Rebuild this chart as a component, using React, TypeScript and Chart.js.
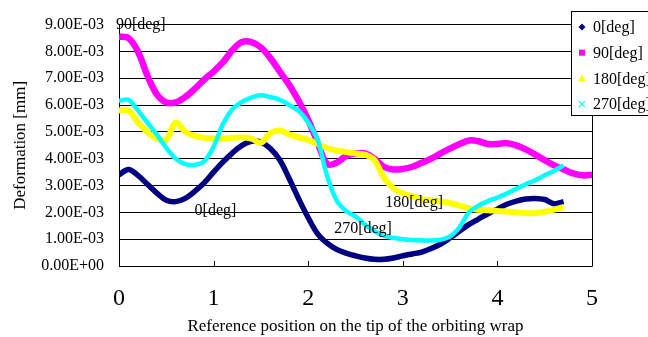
import React, { useEffect, useRef } from "react";
import { Chart, registerables } from "chart.js";

Chart.register(...registerables);

// Reference position on the tip of the orbiting wrap
const positionsShort = [
  0.0, 0.1, 0.2, 0.3, 0.4, 0.5, 0.6, 0.7, 0.8, 0.9,
  1.0, 1.1, 1.2, 1.3, 1.4, 1.5, 1.6, 1.7, 1.8, 1.9,
  2.0, 2.1, 2.2, 2.3, 2.4, 2.5, 2.6, 2.7, 2.8, 2.9,
  3.0, 3.1, 3.2, 3.3, 3.4, 3.5, 3.6, 3.7, 3.8, 3.9,
  4.0, 4.1, 4.2, 4.3, 4.4, 4.5, 4.6, 4.7,
];
const positionsLong = [
  0.0, 0.1, 0.2, 0.3, 0.4, 0.5, 0.6, 0.7, 0.8, 0.9,
  1.0, 1.1, 1.2, 1.3, 1.4, 1.5, 1.6, 1.7, 1.8, 1.9,
  2.0, 2.1, 2.2, 2.3, 2.4, 2.5, 2.6, 2.7, 2.8, 2.9,
  3.0, 3.1, 3.2, 3.3, 3.4, 3.5, 3.6, 3.7, 3.8, 3.9,
  4.0, 4.1, 4.2, 4.3, 4.4, 4.5, 4.6, 4.7, 4.8, 4.9, 5.0,
];

// Deformation values, in units of 1E-03 mm
const deg0 = [
  3.40, 3.60, 3.38, 3.05, 2.72, 2.45, 2.40, 2.52, 2.78, 3.10,
  3.50, 3.88, 4.22, 4.50, 4.65, 4.62, 4.38, 3.95, 3.25, 2.50,
  1.80, 1.20, 0.85, 0.62, 0.48, 0.38, 0.30, 0.25, 0.25, 0.30,
  0.38, 0.45, 0.52, 0.65, 0.82, 1.05, 1.30, 1.55, 1.75, 1.95,
  2.12, 2.30, 2.42, 2.50, 2.52, 2.48, 2.32, 2.40,
];
const deg90 = [
  8.55, 8.50, 8.00, 7.10, 6.40, 6.10, 6.10, 6.30, 6.60, 6.95,
  7.25, 7.60, 8.05, 8.35, 8.35, 8.15, 7.75, 7.25, 6.75, 6.15,
  5.45, 4.60, 3.80, 3.85, 4.10, 4.20, 4.20, 4.00, 3.70, 3.60,
  3.62, 3.70, 3.85, 4.00, 4.20, 4.38, 4.55, 4.68, 4.65, 4.55,
  4.55, 4.58, 4.50, 4.35, 4.15, 3.95, 3.75, 3.60, 3.45, 3.38, 3.40,
];
const deg180 = [
  5.80, 5.80, 5.35, 5.00, 4.75, 4.72, 5.35, 5.00, 4.85, 4.78,
  4.75, 4.75, 4.78, 4.80, 4.75, 4.60, 4.95, 5.05, 4.90, 4.80,
  4.70, 4.55, 4.40, 4.30, 4.25, 4.20, 4.15, 3.95, 3.30, 2.90,
  2.70, 2.60, 2.50, 2.45, 2.40, 2.35, 2.25, 2.15, 2.10, 2.08,
  2.05, 2.03, 2.00, 1.97, 1.97, 2.02, 2.10, 2.20,
];
const deg270 = [
  6.15, 6.20, 5.80, 5.35, 4.90, 4.40, 4.00, 3.80, 3.77, 3.90,
  4.45, 5.30, 5.85, 6.12, 6.28, 6.37, 6.30, 6.20, 6.00, 5.78,
  5.35, 4.70, 3.35, 2.45, 2.05, 1.85, 1.55, 1.30, 1.12, 1.05,
  1.00, 0.97, 0.95, 0.95, 0.98, 1.10, 1.45, 2.00, 2.25, 2.42,
  2.55, 2.70, 2.88, 3.05, 3.20, 3.38, 3.55, 3.75,
];

const seriesLabels = ["0[deg]", "90[deg]", "180[deg]", "270[deg]"];
const seriesColors = ["#000080", "#FF00FF", "#FFFF00", "#00FFFF"];
const seriesMarkers = ["diamond", "square", "triangle", "cross"];

const yTicks = [0, 1, 2, 3, 4, 5, 6, 7, 8, 9];
const xTicks = [0, 1, 2, 3, 4, 5];

// in-plot text labels (data coordinates)
const noteTexts = ["90[deg]", "0[deg]", "270[deg]", "180[deg]"];
const noteX = [0.23, 1.02, 2.58, 3.12];
const noteY = [9.0, 2.06, 1.37, 2.35];

const SERIF = "'Liberation Serif', 'Times New Roman', 'DejaVu Serif', serif";

function fmtTick(v: number): string {
  const n = Number(v) * 1e-3;
  if (Math.abs(n) < 1e-12) return "0.00E+00";
  const [m, e] = n.toExponential(2).split("e");
  const ei = parseInt(e, 10);
  return m + "E" + (ei < 0 ? "-" : "+") + String(Math.abs(ei)).padStart(2, "0");
}

function toPts(xs: number[], ys: number[]) {
  return xs.map((x, i) => ({ x, y: ys[i] }));
}

const framePlugin = {
  id: "frame",
  beforeDatasetsDraw(chart: any) {
    const { ctx, chartArea: a, scales } = chart;
    ctx.save();
    ctx.strokeStyle = "#000";
    ctx.lineWidth = 1;
    ctx.beginPath();
    ctx.moveTo(Math.round(a.left) + 0.5, Math.round(a.top));
    ctx.lineTo(Math.round(a.left) + 0.5, Math.round(a.bottom) + 0.5);
    ctx.lineTo(Math.round(a.right) + 0.5, Math.round(a.bottom) + 0.5);
    ctx.lineTo(Math.round(a.right) + 0.5, Math.round(a.top));
    ctx.stroke();
    // inward tick marks on x axis
    ctx.beginPath();
    xTicks.forEach((t) => {
      const px = Math.round(scales.x.getPixelForValue(t)) + 0.5;
      ctx.moveTo(px, Math.round(a.bottom));
      ctx.lineTo(px, Math.round(a.bottom) - 5);
    });
    ctx.stroke();
    ctx.restore();
  },
};

function drawMarker(ctx: CanvasRenderingContext2D, kind: string, x: number, y: number, color: string) {
  ctx.save();
  ctx.fillStyle = color;
  ctx.strokeStyle = color;
  if (kind === "diamond") {
    ctx.beginPath();
    ctx.moveTo(x, y - 3.5);
    ctx.lineTo(x + 3.5, y);
    ctx.lineTo(x, y + 3.5);
    ctx.lineTo(x - 3.5, y);
    ctx.closePath();
    ctx.fill();
  } else if (kind === "square") {
    ctx.fillRect(x - 3, y - 3, 6, 6);
  } else if (kind === "triangle") {
    ctx.beginPath();
    ctx.moveTo(x, y - 4);
    ctx.lineTo(x + 4, y + 3);
    ctx.lineTo(x - 4, y + 3);
    ctx.closePath();
    ctx.fill();
  } else {
    ctx.lineWidth = 1.2;
    ctx.beginPath();
    ctx.moveTo(x - 3, y - 3);
    ctx.lineTo(x + 3, y + 3);
    ctx.moveTo(x + 3, y - 3);
    ctx.lineTo(x - 3, y + 3);
    ctx.stroke();
  }
  ctx.restore();
}

const overlayPlugin = {
  id: "overlay",
  afterDatasetsDraw(chart: any) {
    const { ctx, scales } = chart;
    ctx.save();
    ctx.font = "16px " + SERIF;
    ctx.fillStyle = "#000";
    ctx.textAlign = "center";
    ctx.textBaseline = "middle";
    noteTexts.forEach((t, i) => {
      ctx.fillText(t, scales.x.getPixelForValue(noteX[i]), scales.y.getPixelForValue(noteY[i]));
    });
    ctx.restore();

    // legend box
    ctx.save();
    const bx = 571.5, by = 11.5, bw = 100, bh = 104;
    ctx.fillStyle = "#fff";
    ctx.fillRect(bx, by, bw, bh);
    ctx.strokeStyle = "#000";
    ctx.lineWidth = 1;
    ctx.strokeRect(bx, by, bw, bh);
    ctx.font = "16px " + SERIF;
    ctx.textAlign = "left";
    ctx.textBaseline = "middle";
    seriesLabels.forEach((lab, i) => {
      const cy = 27 + i * 25.7;
      drawMarker(ctx, seriesMarkers[i], 582, cy, seriesColors[i]);
      ctx.fillStyle = "#000";
      ctx.fillText(lab, 593, cy + 1);
    });
    ctx.restore();
  },
};

export default function App() {
  const ref = useRef<HTMLCanvasElement | null>(null);
  useEffect(() => {
    document.body.style.margin = "0";
    if (!ref.current) return;
    const series = [deg0, deg90, deg180, deg270];
    const xsets = [positionsShort, positionsLong, positionsShort, positionsShort];
    const widths = [5.5, 6.5, 6, 4.5];
    const orders = [3, 2, 1, 0];
    const chart = new Chart(ref.current, {
      type: "line",
      data: {
        datasets: series.map((s, i) => ({
          label: seriesLabels[i],
          data: toPts(xsets[i], s),
          borderColor: seriesColors[i],
          backgroundColor: seriesColors[i],
          borderWidth: widths[i],
          pointRadius: 0,
          tension: 0.35,
          fill: false,
          order: orders[i],
        })),
      },
      options: {
        animation: false,
        responsive: false,
        events: [],
        layout: { padding: { left: 0, right: 56, top: 20, bottom: 0 } },
        plugins: {
          legend: { display: false },
          tooltip: { enabled: false },
        },
        scales: {
          x: {
            type: "linear",
            min: 0,
            max: 5,
            afterFit: (s: any) => { s.height = 71; },
            afterBuildTicks: (s: any) => { s.ticks = xTicks.map((v) => ({ value: v })); },
            grid: { display: false, drawTicks: false },
            border: { display: false },
            ticks: {
              padding: 18,
              color: "#000",
              font: { family: SERIF, size: 24 },
              maxRotation: 0,
              callback: (v: any) => String(v),
            },
            title: {
              display: true,
              text: "Reference position on the tip of the orbiting wrap",
              color: "#000",
              font: { family: SERIF, size: 17 },
              padding: { top: 0, bottom: 0 },
            },
          },
          y: {
            type: "linear",
            min: 0,
            max: 9,
            afterFit: (s: any) => { s.width = 119; },
            afterBuildTicks: (s: any) => { s.ticks = yTicks.map((v) => ({ value: v })); },
            grid: { color: "#000", lineWidth: 1, drawTicks: false },
            border: { display: false },
            ticks: {
              padding: 15,
              color: "#000",
              font: { family: SERIF, size: 16 },
              callback: (v: any) => fmtTick(v),
            },
            title: {
              display: true,
              text: "Deformation [mm]",
              color: "#000",
              font: { family: SERIF, size: 17 },
              padding: { top: 10, bottom: 0 },
            },
          },
        },
      },
      plugins: [framePlugin, overlayPlugin],
    });
    return () => chart.destroy();
  }, []);
  return (
    <div style={{ width: 648, height: 337, position: "relative", background: "#fff" }}>
      <canvas ref={ref} width={648} height={337} style={{ display: "block" }} />
    </div>
  );
}
